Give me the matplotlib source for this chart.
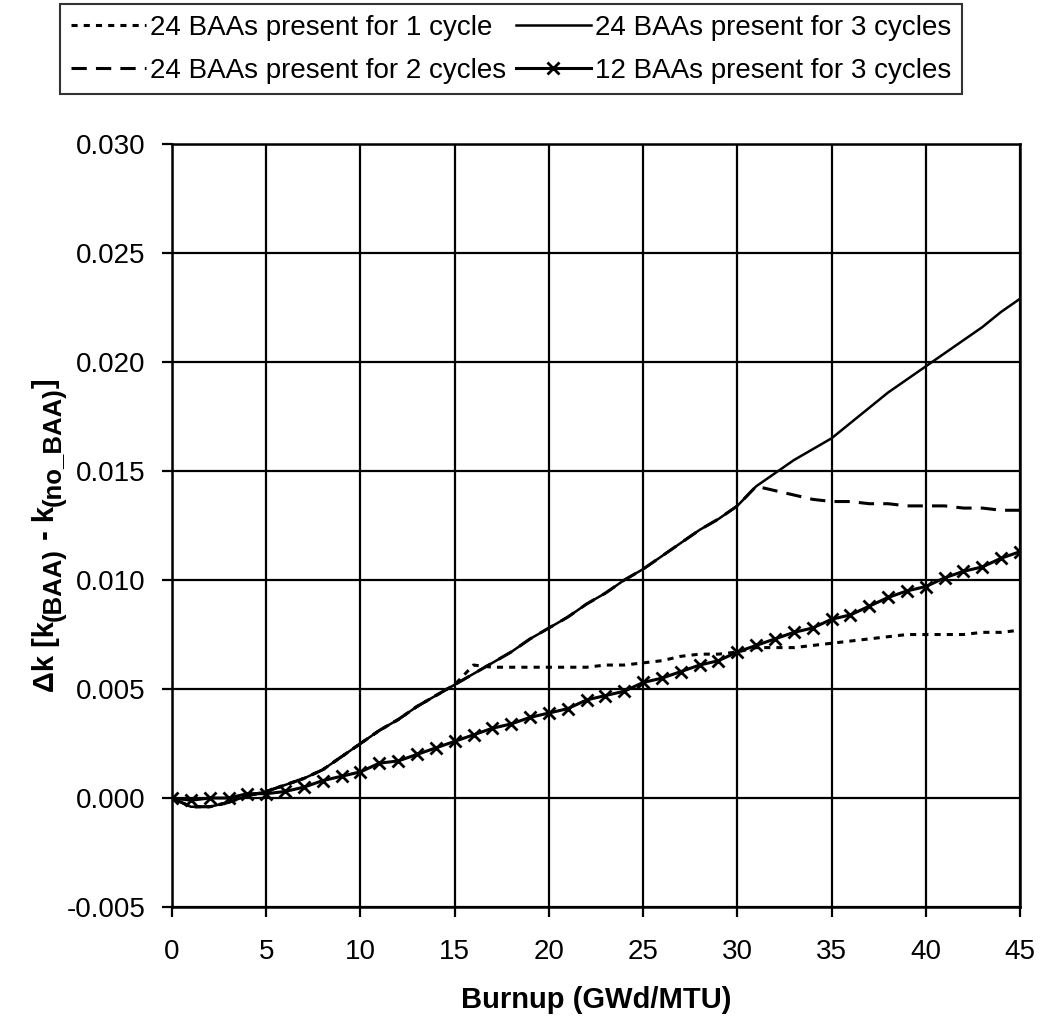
import matplotlib
matplotlib.use("Agg")
import matplotlib.pyplot as plt
from matplotlib.ticker import FormatStrFormatter, MultipleLocator

plt.rcParams["font.family"] = ["Liberation Sans", "DejaVu Sans"]

burnup = [0, 1, 2, 3, 4, 5, 6, 7, 8, 9, 10, 11, 12, 13, 14, 15,
          16, 17, 18, 19, 20, 21, 22, 23, 24, 25, 26, 27, 28, 29, 30,
          31, 32, 33, 34, 35, 36, 37, 38, 39, 40, 41, 42, 43, 44, 45]

dk_24_1cyc = [0.0000, -0.0004, -0.0004, -0.0002, 0.0001, 0.0003, 0.0006, 0.0009,
              0.0013, 0.0019, 0.0025, 0.0031, 0.0036, 0.0042, 0.0047, 0.0052,
              0.0061, 0.0060, 0.0060, 0.0060, 0.0060, 0.0060, 0.0060, 0.0061,
              0.0061, 0.0062, 0.0063, 0.0065, 0.0066, 0.0066, 0.0067, 0.0069,
              0.0069, 0.0069, 0.0070, 0.0071, 0.0072, 0.0073, 0.0074, 0.0075,
              0.0075, 0.0075, 0.0075, 0.0076, 0.0076, 0.0077]

dk_24_2cyc = [0.0000, -0.0004, -0.0004, -0.0002, 0.0001, 0.0003, 0.0006, 0.0009,
              0.0013, 0.0019, 0.0025, 0.0031, 0.0036, 0.0042, 0.0047, 0.0052,
              0.0057, 0.0062, 0.0067, 0.0073, 0.0078, 0.0083, 0.0089, 0.0094,
              0.0100, 0.0105, 0.0111, 0.0117, 0.0123, 0.0128, 0.0134, 0.0143,
              0.0141, 0.0139, 0.0137, 0.0136, 0.0136, 0.0135, 0.0135, 0.0134,
              0.0134, 0.0134, 0.0133, 0.0133, 0.0132, 0.0132]

dk_24_3cyc = [0.0000, -0.0004, -0.0004, -0.0002, 0.0001, 0.0003, 0.0006, 0.0009,
              0.0013, 0.0019, 0.0025, 0.0031, 0.0036, 0.0042, 0.0047, 0.0052,
              0.0057, 0.0062, 0.0067, 0.0073, 0.0078, 0.0083, 0.0089, 0.0094,
              0.0100, 0.0105, 0.0111, 0.0117, 0.0123, 0.0128, 0.0134, 0.0143,
              0.0149, 0.0155, 0.0160, 0.0165, 0.0172, 0.0179, 0.0186, 0.0192,
              0.0198, 0.0204, 0.0210, 0.0216, 0.0223, 0.0229]

dk_12_3cyc = [0.0000, -0.0001, 0.0000, 0.0000, 0.0002, 0.0002, 0.0003, 0.0005,
              0.0008, 0.0010, 0.0012, 0.0016, 0.0017, 0.0020, 0.0023, 0.0026,
              0.0029, 0.0032, 0.0034, 0.0037, 0.0039, 0.0041, 0.0045, 0.0047,
              0.0049, 0.0053, 0.0055, 0.0058, 0.0061, 0.0063, 0.0067, 0.0070,
              0.0073, 0.0076, 0.0078, 0.0082, 0.0084, 0.0088, 0.0092, 0.0095,
              0.0097, 0.0101, 0.0104, 0.0106, 0.0110, 0.0113]

labels = ["24 BAAs present for 1 cycle", "24 BAAs present for 2 cycles",
          "24 BAAs present for 3 cycles", "12 BAAs present for 3 cycles"]

W, H = 1044, 1027
fig = plt.figure(figsize=(W / 100, H / 100), dpi=100)
ax = fig.add_axes([0.1648, 0.1168, 0.8122, 0.743])

l1, = ax.plot(burnup, dk_24_1cyc, color="black", lw=2.2, linestyle=(0, (2, 2)))
l2, = ax.plot(burnup, dk_24_2cyc, color="black", lw=2.2, linestyle=(0, (5, 3)))
l3, = ax.plot(burnup, dk_24_3cyc, color="black", lw=1.8)
l4, = ax.plot(burnup, dk_12_3cyc, color="black", lw=2.2, marker="x",
              markersize=9, markeredgewidth=2)

ax.set_xlim(0, 45)
ax.set_ylim(-0.005, 0.030)
ax.xaxis.set_major_locator(MultipleLocator(5))
ax.yaxis.set_major_locator(MultipleLocator(0.005))
ax.yaxis.set_major_formatter(FormatStrFormatter("%.3f"))
ax.grid(True, color="black", lw=1.6)
for s in ax.spines.values():
    s.set_linewidth(1.8)
ax.tick_params(direction="out", length=7, width=1.6, labelsize=20)
ax.tick_params(axis="y", pad=12)
ax.tick_params(axis="x", pad=16)

fig.text(0.5 * (0.1648 + 0.977), 1 - 1000 / H, "Burnup (GWd/MTU)", fontsize=21,
         fontweight="bold", ha="center", va="center")

# y label built from pieces so the subscripts stay close to full size
pieces = [("\u0394k [k", 21, 0), ("(BAA)", 18.5, 7), (" - k", 21, 0),
          ("(no_BAA)", 18.5, 7), ("]", 21, 0)]
base_x = 54
renderer = fig.canvas.get_renderer()
parts = []
for txt, size, dx in pieces:
    t = fig.text((base_x + dx) / W, 0, txt, rotation=90, rotation_mode="anchor",
                 ha="left", va="baseline", fontsize=size, fontweight="bold")
    parts.append(t)
lengths = [t.get_window_extent(renderer).height for t in parts]
y0 = (1 - 535 / H) * H - sum(lengths) / 2
for t, L in zip(parts, lengths):
    t.set_y(y0 / H)
    y0 += L

leg = fig.legend([l1, l2, l3, l4], labels,
                 ncol=2, loc="upper left", bbox_to_anchor=(60 / W, 1 - 4 / H),
                 frameon=True, fancybox=False, edgecolor="black",
                 prop={"size": 20},
                 handlelength=2.7, handletextpad=0.15, columnspacing=0.35,
                 borderpad=0.38, labelspacing=0.62, borderaxespad=0)
leg.get_frame().set_linewidth(1.5)

fig.savefig("out.png", dpi=100)
